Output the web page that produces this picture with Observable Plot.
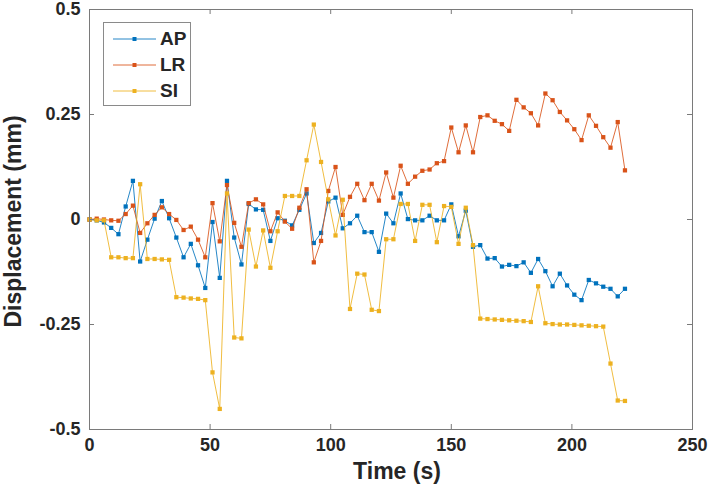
<!DOCTYPE html>
<html>
<head>
<meta charset="utf-8">
<script src="https://cdn.jsdelivr.net/npm/d3@7"></script>
<script src="https://cdn.jsdelivr.net/npm/@observablehq/plot@0.6"></script>
<style>
  html, body { margin: 0; padding: 0; background: #fff; }
  #wrap { position: relative; width: 709px; height: 493px; font-family: "Liberation Sans", Arial, sans-serif; }
  #legend { position: absolute; left: 103px; top: 22px; width: 88px; height: 84px; border: 1px solid #8a8a8a; background: #fff; box-sizing: border-box; }
  .lrow { position: absolute; left: 0; height: 20px; display: flex; align-items: center; }
  .lrow span { font-weight: bold; font-size: 19px; color: #262626; margin-left: 4px; }
</style>
</head>
<body>
<div id="wrap"><div id="chart"></div><div id="legend"></div></div>
<script>
const time = [0,3,6,9,12,15,18,21,24,27,30,33,36,39,42,45,48,51,54,57,60,63,66,69,72,75,78,81,84,87,90,93,96,99,102,105,108,111,114,117,120,123,126,129,132,135,138,141,144,147,150,153,156,159,162,165,168,171,174,177,180,183,186,189,192,195,198,201,204,207,210,213,216,219,222];

const ap = [0,-0.002,-0.007,-0.020,-0.035,0.031,0.092,-0.100,-0.048,0.002,
  0.044,0.003,-0.043,-0.090,-0.058,-0.109,-0.163,-0.006,-0.139,0.092,
  -0.043,-0.107,0.037,0.024,0.023,-0.051,0.003,-0.003,-0.014,0.023,
  0.062,-0.056,-0.032,0.043,0.052,-0.021,-0.009,0.009,-0.030,-0.030,
  -0.077,0.014,-0.009,0.062,0.001,-0.002,-0.002,0.009,-0.002,-0.002,
  0.036,-0.040,0.021,-0.065,-0.061,-0.093,-0.092,-0.112,-0.108,-0.111,
  -0.102,-0.127,-0.094,-0.123,-0.159,-0.129,-0.157,-0.179,-0.192,-0.144,
  -0.152,-0.160,-0.165,-0.183,-0.165];

const lr = [0,0.002,0,-0.002,-0.003,0.013,0.033,-0.032,-0.009,0.011,
  0.029,0.013,-0.001,-0.025,-0.017,-0.048,-0.090,0.039,-0.052,0.082,
  -0.008,-0.065,0.039,0.048,0.036,-0.028,0.017,-0.005,-0.022,0.028,
  0.072,-0.102,-0.051,0.068,0.125,0.011,0.054,0.085,0.046,0.085,
  0.045,0.112,0.052,0.128,0.085,0.102,0.116,0.119,0.134,0.139,
  0.219,0.160,0.224,0.160,0.244,0.248,0.235,0.227,0.211,0.285,
  0.267,0.253,0.224,0.300,0.284,0.256,0.236,0.215,0.189,0.248,
  0.223,0.196,0.171,0.232,0.117];

const si = [0,-0.002,-0.002,-0.090,-0.090,-0.092,-0.092,0.084,-0.094,-0.094,
  -0.095,-0.096,-0.185,-0.186,-0.188,-0.189,-0.192,-0.364,-0.451,0.062,
  -0.281,-0.283,-0.024,-0.112,-0.026,-0.115,-0.028,0.056,0.056,0.056,
  0.141,0.226,0.137,0.048,-0.038,0.047,-0.213,-0.129,-0.131,-0.215,
  -0.218,-0.047,-0.047,0.037,0.037,-0.051,0.035,0.035,-0.054,0.032,
  0.030,-0.058,0.028,-0.061,-0.236,-0.237,-0.238,-0.239,-0.240,-0.241,
  -0.242,-0.244,-0.159,-0.247,-0.249,-0.250,-0.250,-0.251,-0.252,-0.253,
  -0.254,-0.255,-0.343,-0.431,-0.432];

const seriesNames = ["AP", "LR", "SI"];
const seriesColors = ["#0072BD", "#D95319", "#EDB120"];
const xTicks = [0, 50, 100, 150, 200, 250];
const yTicks = [-0.5, -0.25, 0, 0.25, 0.5];
const xLabel = "Time (s)";
const yLabel = "Displacement (mm)";

const W = 709, H = 493, ML = 89, MR = 17, MT = 9, MB = 64;
const FW = W - ML - MR, FH = H - MT - MB, TL = 5;
const tickColor = "#262626";
const axisColor = "#7a7a7a";
const fontFamily = '"Liberation Sans", Arial, sans-serif';

const allSeries = [ap, lr, si].map((vals, k) => ({
  name: seriesNames[k], color: seriesColors[k],
  rows: time.map((t, i) => ({t, v: vals[i]}))
}));

const dataMarks = allSeries.flatMap(s => [
  Plot.line(s.rows, {x: "t", y: "v", stroke: s.color, strokeWidth: 1, strokeOpacity: 0.85}),
  Plot.dot(s.rows, {x: "t", y: "v", symbol: "square", r: 2.4, fill: s.color, stroke: "none"})
]);

const chart = Plot.plot({
  width: W, height: H,
  marginLeft: ML, marginRight: MR, marginTop: MT, marginBottom: MB,
  style: {background: "white", fontFamily},
  x: {domain: [0, 250]},
  y: {domain: [-0.5, 0.5]},
  marks: [
    ...dataMarks,
    Plot.frame({stroke: axisColor, strokeWidth: 1}),
    Plot.tickX(xTicks, {x: d => d, insetTop: FH - TL, stroke: axisColor}),
    Plot.tickX(xTicks, {x: d => d, insetBottom: FH - TL, stroke: axisColor}),
    Plot.tickY(yTicks, {y: d => d, insetRight: FW - TL, stroke: axisColor}),
    Plot.tickY(yTicks, {y: d => d, insetLeft: FW - TL, stroke: axisColor}),
    Plot.axisX({ticks: xTicks, tickSize: 0, tickPadding: 9, label: null, fontSize: 18, fontWeight: "bold", fill: tickColor, tickFormat: d => String(d)}),
    Plot.axisY({ticks: yTicks, tickSize: 0, tickPadding: 9, label: null, fontSize: 18, fontWeight: "bold", fill: tickColor, tickFormat: d => String(d)}),
    Plot.text([xLabel], {frameAnchor: "bottom", dy: 42, dx: 6, text: d => d, fontSize: 23, fontWeight: "bold", fill: tickColor, textAnchor: "middle", lineAnchor: "middle"}),
    Plot.text([yLabel], {frameAnchor: "left", dx: -76, dy: 2, text: d => d, rotate: -90, fontSize: 23, fontWeight: "bold", fill: tickColor, textAnchor: "middle", lineAnchor: "middle"})
  ]
});
document.getElementById("chart").appendChild(chart);

// legend (HTML overlay)
const legend = document.getElementById("legend");
allSeries.forEach((s, k) => {
  const row = document.createElement("div");
  row.className = "lrow";
  row.style.top = (6 + k * 26) + "px";
  row.style.left = "9px";
  const ns = "http://www.w3.org/2000/svg";
  const sw = document.createElementNS(ns, "svg");
  sw.setAttribute("width", 43); sw.setAttribute("height", 10);
  const ln = document.createElementNS(ns, "line");
  ln.setAttribute("x1", 0); ln.setAttribute("x2", 43); ln.setAttribute("y1", 5); ln.setAttribute("y2", 5);
  ln.setAttribute("stroke", s.color); ln.setAttribute("stroke-width", 1); ln.setAttribute("stroke-opacity", 0.85);
  const sq = document.createElementNS(ns, "rect");
  sq.setAttribute("x", 19.5); sq.setAttribute("y", 3); sq.setAttribute("width", 4); sq.setAttribute("height", 4);
  sq.setAttribute("fill", s.color);
  sw.appendChild(ln); sw.appendChild(sq);
  const label = document.createElement("span");
  label.textContent = s.name;
  row.appendChild(sw); row.appendChild(label);
  legend.appendChild(row);
});
</script>
</body>
</html>
